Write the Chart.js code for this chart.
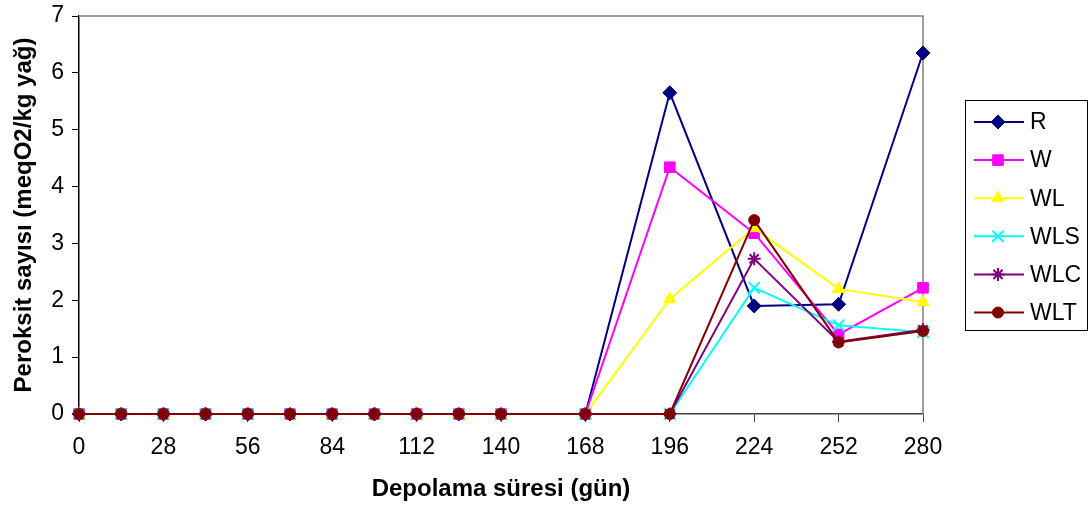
<!DOCTYPE html>
<html>
<head>
	<title>Peroksit sayısı</title>
	<script src="https://cdn.jsdelivr.net/npm/chart.js@4.4.0/dist/chart.umd.min.js"></script>
<style>
	body { margin: 0; background: #fff; }
	#wrap { width: 1089px; height: 508px; position: relative; }
</style>
</head>
<body>
<div id="wrap">
	<canvas id="plot"></canvas>
</div>

<script lang="text/javascript">
var days = [0, 14, 28, 42, 56, 70, 84, 98, 112, 126, 140, 168, 196, 224, 252, 280];

var seriesR   = [0, 0, 0, 0, 0, 0, 0, 0, 0, 0, 0, 0, 5.65, 1.90, 1.93, 6.35];
var seriesW   = [0, 0, 0, 0, 0, 0, 0, 0, 0, 0, 0, 0, 4.34, 3.18, 1.40, 2.22];
var seriesWL  = [0, 0, 0, 0, 0, 0, 0, 0, 0, 0, 0, 0, 2.02, 3.27, 2.20, 1.97];
var seriesWLS = [0, 0, 0, 0, 0, 0, 0, 0, 0, 0, 0, 0, 0, 2.22, 1.56, 1.44];
var seriesWLC = [0, 0, 0, 0, 0, 0, 0, 0, 0, 0, 0, 0, 0, 2.73, 1.27, 1.48];
var seriesWLT = [0, 0, 0, 0, 0, 0, 0, 0, 0, 0, 0, 0, 0, 3.41, 1.26, 1.46];

var fontFamily = '"Liberation Sans", Arial, sans-serif';

function points(values) {
	return values.map(function (v, i) {
		return { x : days[i], y : v };
	});
}

function makeSet(label, values, color, style, radius, order) {
	return {
		label : label,
		data : points(values),
		borderColor : color,
		backgroundColor : color,
		pointBackgroundColor : color,
		pointBorderColor : color,
		pointStyle : style,
		pointRadius : radius,
		pointBorderWidth : (style == 'crossRot' || style == 'star') ? 2 : 1,
		borderWidth : 2,
		tension : 0,
		clip : false,
		order : order
	};
}

// frame on top and right of the plot area, legend box on the right
var extras = {
	id : 'extras',
	beforeDatasetsDraw : function (chart) {
		var ctx = chart.ctx;
		var a = chart.chartArea;
		ctx.save();
		ctx.strokeStyle = '#808080';
		ctx.lineWidth = 1.5;
		ctx.beginPath();
		ctx.moveTo(a.left, a.top);
		ctx.lineTo(a.right, a.top);
		ctx.lineTo(a.right, a.bottom);
		ctx.stroke();
		ctx.restore();
	},
	afterDraw : function (chart) {
		var ctx = chart.ctx;
		var sets = chart.data.datasets;
		var boxX = 965, boxY = 100, boxW = 122, boxH = 230;
		ctx.save();
		ctx.fillStyle = '#fff';
		ctx.fillRect(boxX, boxY, boxW, boxH);
		ctx.strokeStyle = '#000';
		ctx.lineWidth = 1;
		ctx.strokeRect(boxX + 0.5, boxY + 0.5, boxW, boxH);
		ctx.font = '23px ' + fontFamily;
		ctx.textBaseline = 'middle';
		for (var i = 0; i < sets.length; i++) {
			var ds = sets[i];
			var y = 122 + i * 38.1;
			ctx.strokeStyle = ds.borderColor;
			ctx.lineWidth = 2;
			ctx.beginPath();
			ctx.moveTo(974, y);
			ctx.lineTo(1024, y);
			ctx.stroke();
			ctx.fillStyle = ds.pointBackgroundColor;
			ctx.strokeStyle = ds.pointBorderColor;
			ctx.lineWidth = ds.pointBorderWidth;
			Chart.helpers.drawPoint(ctx, {
				pointStyle : ds.pointStyle,
				radius : ds.pointRadius,
				rotation : 0,
				borderWidth : ds.pointBorderWidth
			}, 998, y);
			ctx.fillStyle = '#000';
			ctx.fillText(ds.label, 1030, y + 1);
		}
		ctx.restore();
	}
};

var chart = new Chart(document.getElementById('plot'), {
	type : 'line',
	data : {
		datasets : [
			makeSet('R', seriesR, '#000080', 'rectRot', 7, 5),
			makeSet('W', seriesW, '#FF00FF', 'rect', 7.5, 4),
			makeSet('WL', seriesWL, '#FFFF00', 'triangle', 7, 3),
			makeSet('WLS', seriesWLS, '#00FFFF', 'crossRot', 8, 2),
			makeSet('WLC', seriesWLC, '#800080', 'star', 6.5, 1),
			makeSet('WLT', seriesWLT, '#800000', 'circle', 5.5, 0)
		]
	},
	plugins : [extras],
	options : {
		responsive : true,
		maintainAspectRatio : false,
		animation : false,
		layout : {
			padding : { top : 16, right : 166, left : 0, bottom : 0 }
		},
		plugins : {
			legend : { display : false },
			tooltip : { enabled : false }
		},
		scales : {
			x : {
				type : 'linear',
				min : 0,
				max : 280,
				afterFit : function (s) {
					s.height = 94;
					s.paddingLeft = 0;
					s.paddingRight = 0;
				},
				ticks : {
					stepSize : 28,
					color : '#000',
					padding : 12,
					maxRotation : 0,
					font : { family : fontFamily, size : 23 }
				},
				grid : {
					drawOnChartArea : false,
					drawTicks : true,
					tickLength : 8,
					color : '#404040'
				},
				border : { color : '#404040', width : 1.5 },
				title : {
					display : true,
					text : 'Depolama süresi (gün)',
					color : '#000',
					padding : { top : 10 },
					font : { family : fontFamily, size : 24, weight : 'bold' }
				}
			},
			y : {
				min : 0,
				max : 7,
				afterFit : function (s) {
					s.width = 79;
					s.paddingTop = 0;
					s.paddingBottom = 0;
				},
				ticks : {
					stepSize : 1,
					color : '#000',
					padding : 8,
					font : { family : fontFamily, size : 23 }
				},
				grid : {
					drawOnChartArea : false,
					drawTicks : true,
					tickLength : 7,
					color : '#000'
				},
				border : { color : '#000', width : 1.5 },
				title : {
					display : true,
					text : 'Peroksit sayısı (meqO2/kg yağ)',
					color : '#000',
					padding : { top : 10, bottom : 4 },
					font : { family : fontFamily, size : 24, weight : 'bold' }
				}
			}
		}
	}
});
</script>
</body>
</html>
